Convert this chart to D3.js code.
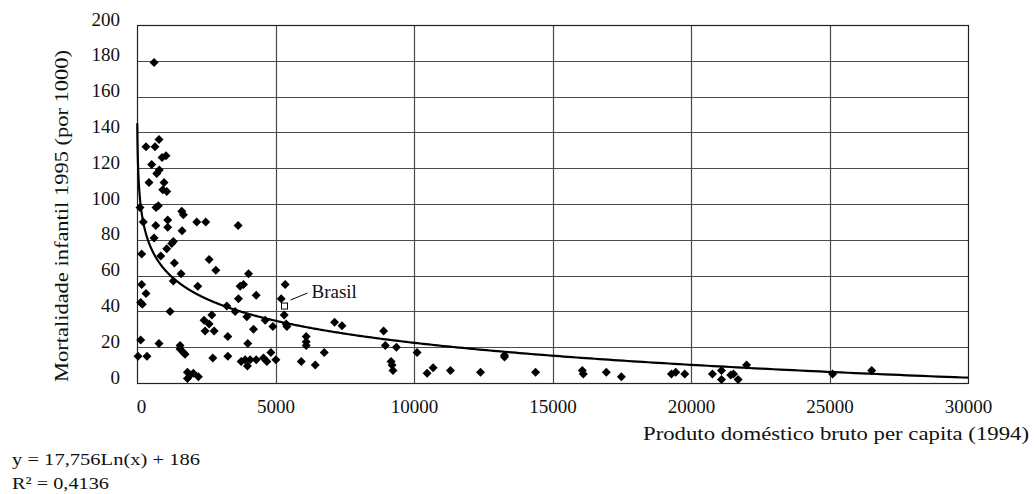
<!DOCTYPE html>
<html>
<head>
<meta charset="utf-8">
<script src="https://cdn.jsdelivr.net/npm/d3@7"></script>
<style>
  html, body { margin: 0; padding: 0; background: #fff; }
  svg { display: block; font-family: "Liberation Serif", "DejaVu Serif", serif; }
</style>
</head>
<body>
<svg id="chart" width="1034" height="494"></svg>
<script>
// ---- data ----
const gdp = [
  615, 325, 650, 795, 904, 1048, 531, 712, 806, 434, 976, 929, 1074, 108, 687, 770,
  1615, 1675, 228, 676, 1109, 1109, 2158, 2483, 3651, 1627, 615, 1312, 1254, 1073,
  170, 857, 2603, 1349, 2845, 1591, 4025, 1312, 170, 2194, 3723, 3844, 325, 4302,
  3663, 134, 192, 1193, 3242, 3543, 3965, 2700, 2422, 2603, 4627, 4905, 4205, 2458,
  2784, 3278, 4001, 134, 795, 1555, 1555, 1674, 1735, 36, 360, 2736, 3278, 3760,
  3904, 3988, 4085, 4302, 4566, 4688, 4833, 5014, 1820, 1916, 1820, 2035, 2216,
  5350, 5206, 5314, 5386, 5410, 7133, 7400, 6109, 6109, 6109, 5929, 6435, 6760,
  8904, 8965, 9363, 9171, 9207, 9243, 10111, 10473, 10690, 11315, 12400, 13268,
  13268, 14388, 16076, 16112, 16943, 17486, 19293, 19449, 19774, 20775, 21100,
  21100, 21436, 21534, 21701, 22005, 25113, 26523
];
const mortality = [
  179, 132, 132, 136, 126, 127, 122, 117, 119, 112, 112, 108, 107, 98, 98, 99,
  96, 94, 90, 88, 91, 87, 90, 90, 88, 85, 81, 79, 78, 75,
  72, 71, 69, 67, 63, 61, 61, 57, 55, 54, 54, 55, 50, 49,
  47, 45, 44, 40, 43, 40, 37, 38, 35, 33, 35, 31.5, 30, 29,
  29, 26, 22, 24, 22, 21, 19, 17, 16, 15, 15, 14, 15, 12,
  13, 9.5, 13, 13, 14, 12, 17, 13, 6, 4.5, 2.5, 5.5, 3.5,
  55, 47, 38, 33, 31.5, 34, 32, 26, 23, 21, 12, 10, 17,
  29, 21, 20, 12, 10, 7, 17, 5.5, 8.5, 7, 6, 15.5,
  14.5, 6, 7, 5, 6, 3.5, 5, 6, 5, 5, 7,
  2, 4.5, 5, 2, 10, 5, 7
];
const highlightName = ["Brasil"];
const highlightGdp = [5325];
const highlightMortality = [43];

const xTicks = [0, 5000, 10000, 15000, 20000, 25000, 30000];
const yTicks = [0, 20, 40, 60, 80, 100, 120, 140, 160, 180, 200];
const trendCoef = [-17.756, 186];          // y = a*ln(x) + b
const trendRange = [10, 30000];
const equationLines = ["y = 17,756Ln(x) + 186", "R² = 0,4136"];
const xTitle = "Produto doméstico bruto per capita (1994)";
const yTitle = "Mortalidade infantil 1995 (por 1000)";

// ---- chart ----
const svg = d3.select("#chart");
const x = d3.scaleLinear().domain([0, 30000]).range([137, 968]);
const y = d3.scaleLinear().domain([0, 200]).range([383, 25]);

// gridlines
const grid = svg.append("g");
grid.selectAll("line.h").data(yTicks.filter(v => v > 0 && v < 200)).join("line")
  .attr("x1", x(0)).attr("x2", x(30000))
  .attr("y1", d => Math.round(y(d)) + 0.5).attr("y2", d => Math.round(y(d)) + 0.5)
  .attr("stroke", "#4a4a4a").attr("stroke-width", 1.2);
grid.selectAll("line.v").data(xTicks.filter(v => v > 0 && v < 30000)).join("line")
  .attr("y1", y(0)).attr("y2", y(200))
  .attr("x1", d => Math.round(x(d)) + 0.5).attr("x2", d => Math.round(x(d)) + 0.5)
  .attr("stroke", "#4a4a4a").attr("stroke-width", 1.2);

// border
svg.append("rect")
  .attr("x", x(0) + 0.5).attr("y", y(200) + 0.5)
  .attr("width", x(30000) - x(0)).attr("height", y(0) - y(200))
  .attr("fill", "none").attr("stroke", "#222").attr("stroke-width", 1.2);

// axes labels via d3 axes (lines hidden)
const xAxis = svg.append("g")
  .attr("transform", `translate(0,${y(0)})`)
  .call(d3.axisBottom(x).tickValues(xTicks).tickFormat(d3.format("d")).tickSize(0).tickPadding(17));
xAxis.select(".domain").remove();
xAxis.selectAll("text").attr("font-size", 19).attr("fill", "#111")
  .attr("font-family", "Liberation Serif").attr("dx", d => d === 0 ? 4 : 0);

const yAxis = svg.append("g")
  .attr("transform", `translate(${x(0)},0)`)
  .call(d3.axisLeft(y).tickValues(yTicks).tickFormat(d3.format("d")).tickSize(0).tickPadding(17));
yAxis.select(".domain").remove();
yAxis.selectAll("text").attr("font-size", 19).attr("fill", "#111")
  .attr("font-family", "Liberation Serif")
  .attr("transform", "translate(0,-6)");

// trend line
const trendX = d3.range(Math.log(trendRange[0]), Math.log(trendRange[1]) + 1e-9, 0.01).map(Math.exp);
trendX.push(trendRange[1]);
const line = d3.line()
  .x(d => x(d))
  .y(d => y(trendCoef[0] * Math.log(d) + trendCoef[1]));
svg.append("path").datum(trendX)
  .attr("d", line).attr("fill", "none").attr("stroke", "#000").attr("stroke-width", 2.2);

// points
const diamond = (cx, cy, r) => `M${cx},${cy - r}L${cx + r},${cy}L${cx},${cy + r}L${cx - r},${cy}Z`;
const pts = gdp.map((g, i) => ({ g, m: mortality[i] }));
svg.append("g").selectAll("path").data(pts).join("path")
  .attr("d", d => diamond(x(d.g), y(d.m), 4.5))
  .attr("fill", "#000");

// highlighted country
highlightGdp.forEach((g, i) => {
  const cx = x(g), cy = y(highlightMortality[i]);
  svg.append("rect").attr("x", cx - 3).attr("y", cy - 3).attr("width", 6).attr("height", 6)
    .attr("fill", "#fff").attr("stroke", "#000").attr("stroke-width", 1);
  svg.append("line").attr("x1", cx + 6).attr("y1", cy - 6).attr("x2", cx + 23).attr("y2", cy - 13)
    .attr("stroke", "#000").attr("stroke-width", 1);
  svg.append("text").attr("x", cx + 27).attr("y", cy - 8.5)
    .attr("font-size", 19).attr("fill", "#111").text(highlightName[i]);
});

// axis titles
svg.append("text")
  .attr("transform", "translate(68,216) rotate(-90)")
  .attr("text-anchor", "middle").attr("font-size", 19).attr("fill", "#111")
  .attr("textLength", 332).attr("lengthAdjust", "spacingAndGlyphs")
  .text(yTitle);

svg.append("text")
  .attr("x", 1029).attr("y", 440).attr("text-anchor", "end")
  .attr("font-size", 19).attr("fill", "#111")
  .attr("textLength", 386).attr("lengthAdjust", "spacingAndGlyphs")
  .text(xTitle);

// equation
svg.append("text").attr("x", 12).attr("y", 465)
  .attr("font-size", 17).attr("fill", "#111")
  .attr("textLength", 188).attr("lengthAdjust", "spacingAndGlyphs")
  .text(equationLines[0]);
svg.append("text").attr("x", 12).attr("y", 489)
  .attr("font-size", 17).attr("fill", "#111")
  .attr("textLength", 97).attr("lengthAdjust", "spacingAndGlyphs")
  .text(equationLines[1]);
</script>
</body>
</html>
